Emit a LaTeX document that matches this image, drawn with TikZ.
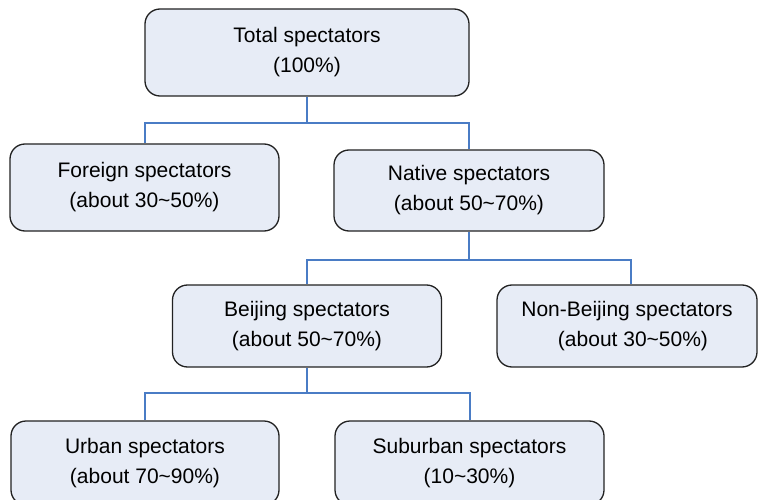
\documentclass[tikz,border=0pt]{standalone}
\usepackage{fontspec}
\setmainfont{Liberation Sans}
\definecolor{boxfill}{HTML}{E7ECF6}
\definecolor{boxline}{HTML}{222222}
\definecolor{connblue}{HTML}{4A7CC5}
\begin{document}
\begin{tikzpicture}[x=1pt,y=-1pt,
  box/.style={draw=boxline, line width=1.3pt, fill=boxfill, rounded corners=15pt,
    align=center, inner sep=0pt, font=\fontsize{21}{30}\selectfont},
  conn/.style={draw=connblue, line width=2pt}]
\useasboundingbox (0,0) rectangle (758,500);
\clip (0,0) rectangle (758,500);
\node[box, minimum width=324pt, minimum height=87pt] (total) at (307,52.5) {Total spectators\\(100\%)};
\node[box, minimum width=269pt, minimum height=87pt] (foreign) at (144.5,187.5) {Foreign spectators\\(about 30\textasciitilde 50\%)};
\node[box, minimum width=270pt, minimum height=81pt] (native) at (469,190.5) {Native spectators\\(about 50\textasciitilde 70\%)};
\node[box, minimum width=269pt, minimum height=82pt] (beijing) at (307,326) {Beijing spectators\\(about 50\textasciitilde 70\%)};
\node[box, minimum width=260pt, minimum height=82pt] (nonbeijing) at (627,326) {Non-Beijing spectators\\\hspace*{12pt}(about 30\textasciitilde 50\%)};
\node[box, minimum width=268pt, minimum height=84pt] (urban) at (145,463) {Urban spectators\\(about 70\textasciitilde 90\%)};
\node[box, minimum width=269pt, minimum height=84pt] (suburban) at (469.5,463) {Suburban spectators\\(10\textasciitilde 30\%)};
\coordinate (j1) at (307,123);
\coordinate (j2) at (469,260);
\coordinate (j3) at (307,393);
\draw[conn] (total.south) -- (j1);
\draw[conn] (j1) -| (foreign.north);
\draw[conn] (j1) -| (native.north);
\draw[conn] (native.south) -- (j2);
\draw[conn] (j2) -| (beijing.north);
\draw[conn] (j2) -| ([xshift=4pt]nonbeijing.north);
\draw[conn] (beijing.south) -- (j3);
\draw[conn] (j3) -| (urban.north);
\draw[conn] (j3) -| (suburban.north);
\end{tikzpicture}
\end{document}
